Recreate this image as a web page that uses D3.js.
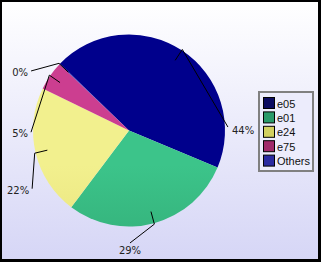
<!DOCTYPE html>
<html lang="en">
<head>
<meta charset="UTF-8">
<title>Pie</title>
<script src="https://cdn.jsdelivr.net/npm/d3@7"></script>
<style>
  body { margin: 0; background: #000; }
  svg { display: block; }
  .lbl { font-family: 'DejaVu Sans', sans-serif; font-size: 10px; fill: #222; }
  .leg { font-family: 'Liberation Sans', Arial, sans-serif; font-size: 11px; fill: #111; }
</style>
</head>
<body>
<svg width="321" height="262"></svg>
<script>
const categories = ["e05", "e01", "e24", "e75", "Others"];
const values = [44.0, 28.9, 21.9, 4.9, 0.1];
const pieTop = ["#00008c", "#3cc48a", "#f2f08e", "#cc3e90", "#3434b0"];
const pieBottom = ["#000080", "#2a9866", "#ddd46a", "#b83480", "#2a2a9a"];
const legendColors = ["#0a0a60", "#2a9a6a", "#d2d060", "#a02a6a", "#2a2aa0"];

const width = 321, height = 262;
const cx = 129, cy = 130.5, R = 96;
const svg = d3.select("svg");
const defs = svg.append("defs");

// background
const bg = defs.append("linearGradient").attr("id", "bg")
  .attr("x1", 0).attr("y1", 0).attr("x2", 0).attr("y2", 1);
bg.append("stop").attr("offset", 0).attr("stop-color", "#ffffff");
bg.append("stop").attr("offset", 1).attr("stop-color", "#d6d6f6");
svg.append("rect").attr("width", width).attr("height", height).attr("fill", "#000");
svg.append("rect").attr("x", 2).attr("y", 2).attr("width", 316).attr("height", 257)
  .attr("fill", "url(#bg)");

categories.forEach((c, i) => {
  const g = defs.append("linearGradient").attr("id", "g" + i)
    .attr("gradientUnits", "userSpaceOnUse")
    .attr("x1", 0).attr("y1", cy - R).attr("x2", 0).attr("y2", cy + R);
  g.append("stop").attr("offset", 0).attr("stop-color", pieTop[i]);
  g.append("stop").attr("offset", 1).attr("stop-color", pieBottom[i]);
});

const rad = d => d * Math.PI / 180;
const pie = d3.pie().sort(null)
  .startAngle(rad(-46)).endAngle(rad(314));
const arcs = pie(values);
const arc = d3.arc().innerRadius(0).outerRadius(R);

const gp = svg.append("g").attr("transform", `translate(${cx},${cy})`);
gp.selectAll("path").data(arcs).join("path")
  .attr("d", arc)
  .attr("fill", (d, i) => `url(#g${i})`);

// label layout: angle (deg, clockwise from top) and radius of the line end
const labelPos = [[88, 99], [179.5, 112.5], [239, 113], [269, 98], [301.3, 114.6]];
const pt = (a, r) => [r * Math.sin(rad(a)), -r * Math.cos(rad(a))];

arcs.forEach((d, i) => {
  const mid = (d.startAngle + d.endAngle) / 2 * 180 / Math.PI;
  const p0 = pt(mid, R - 12), p1 = pt(mid, R + 1);
  const p2 = pt(labelPos[i][0], labelPos[i][1]);
  gp.append("path")
    .attr("d", d3.line()([p0, p1, p2]))
    .attr("fill", "none").attr("stroke", "#000").attr("stroke-width", 1);
  const pct = Math.round(d.value) + "%";
  const t = gp.append("text").attr("class", "lbl").text(pct);
  const a = labelPos[i][0];
  if (a > 160 && a < 200) {
    t.attr("x", p2[0]).attr("y", p2[1] + 11).attr("text-anchor", "middle");
  } else if (a < 180) {
    t.attr("x", p2[0] + 4).attr("y", p2[1] + 7).attr("text-anchor", "start");
  } else {
    t.attr("x", p2[0] - 3).attr("y", p2[1] + 5).attr("text-anchor", "end");
  }
});

// legend
const lg = svg.append("g").attr("transform", "translate(258,91)");
lg.append("rect").attr("x", 1).attr("y", 1).attr("width", 54).attr("height", 79)
  .attr("fill", "#ececfc").attr("stroke", "#808080").attr("stroke-width", 2);
const y = d3.scaleBand().domain(categories).range([5, 77]);
const item = lg.selectAll("g.it").data(categories).join("g").attr("class", "it")
  .attr("transform", d => `translate(0,${y(d)})`);
item.append("rect").attr("x", 5.5).attr("y", 1.5).attr("width", 11).attr("height", 11)
  .attr("fill", (d, i) => legendColors[i]).attr("stroke", "#000");
item.append("text").attr("class", "leg").attr("x", 19).attr("y", 11.5).text(d => d);
</script>
</body>
</html>
